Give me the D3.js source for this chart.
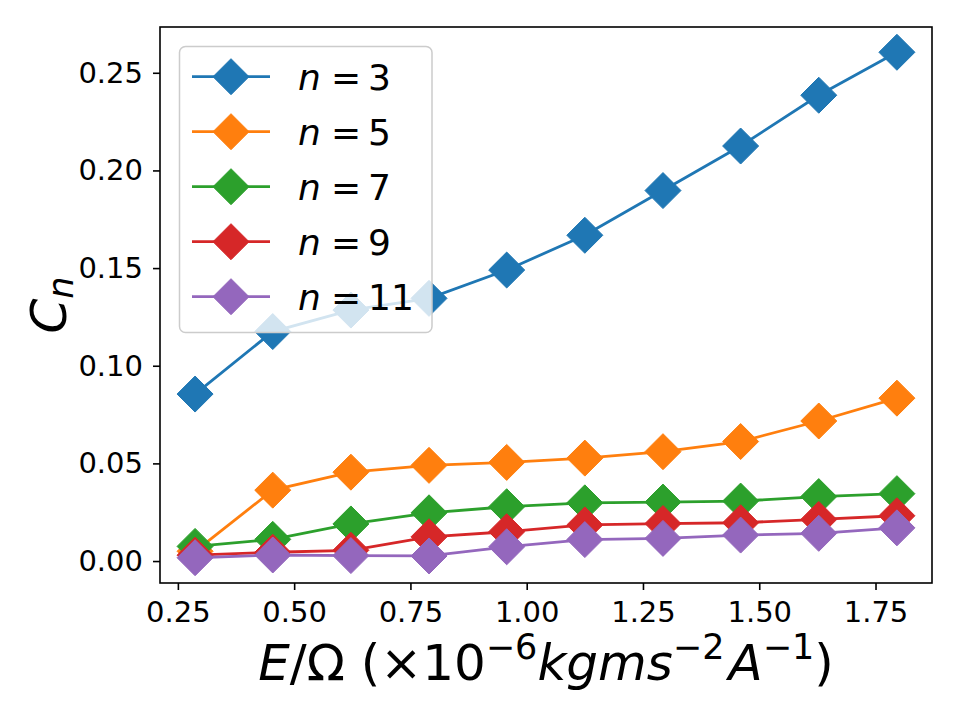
<!DOCTYPE html>
<html>
<head>
<meta charset="utf-8">
<script src="https://cdn.jsdelivr.net/npm/d3@7"></script>
<style>
  html, body { margin: 0; padding: 0; background: #fff; }
  svg { display: block; font-family: "DejaVu Sans", sans-serif; }
</style>
</head>
<body>
<div id="chart"></div>
<script>
// data
const eOmega = [0.287, 0.454, 0.622, 0.790, 0.957, 1.125, 1.293, 1.460, 1.628, 1.796];
const c3 = [0.0855, 0.1175, 0.1285, 0.1345, 0.1490, 0.1668, 0.1897, 0.2125, 0.2385, 0.2605];
const c5 = [0.0050, 0.0363, 0.0455, 0.0490, 0.0505, 0.0527, 0.0560, 0.0612, 0.0717, 0.0834];
const c7 = [0.0075, 0.0111, 0.0190, 0.0247, 0.0278, 0.0298, 0.0302, 0.0307, 0.0330, 0.0345];
const c9 = [0.0030, 0.0045, 0.0055, 0.0124, 0.0150, 0.0185, 0.0192, 0.0196, 0.0213, 0.0232];
const c11 = [0.0017, 0.0031, 0.0028, 0.0026, 0.0073, 0.0110, 0.0116, 0.0133, 0.0142, 0.0170];
const seriesNames = ['3', '5', '7', '9', '11'];
const seriesColors = ['#1f77b4', '#ff7f0e', '#2ca02c', '#d62728', '#9467bd'];
const xTicks = [0.25, 0.50, 0.75, 1.00, 1.25, 1.50, 1.75];
const yTicks = [0.00, 0.05, 0.10, 0.15, 0.20, 0.25];

const series = [c3, c5, c7, c9, c11].map((vals, i) => ({
  name: seriesNames[i],
  color: seriesColors[i],
  points: vals.map((v, j) => ({ x: eOmega[j], y: v }))
}));

const width = 960, height = 720;
const plot = { left: 160, right: 932, top: 27, bottom: 583 };

// matplotlib style 5% margins
const xExt = d3.extent(eOmega);
const xPad = (xExt[1] - xExt[0]) * 0.05;
const allY = [].concat(c3, c5, c7, c9, c11);
const yExt = d3.extent(allY);
const yPad = (yExt[1] - yExt[0]) * 0.05;

const xScale = d3.scaleLinear()
  .domain([xExt[0] - xPad, xExt[1] + xPad])
  .range([plot.left, plot.right]);
const yScale = d3.scaleLinear()
  .domain([yExt[0] - yPad, yExt[1] + yPad])
  .range([plot.bottom, plot.top]);

const svg = d3.select('#chart')
  .append('svg')
  .attr('width', width)
  .attr('height', height);

const diamond = r => `M0,${-r}L${r},0L0,${r}L${-r},0Z`;
const markerR = 18;

// lines + markers, one series at a time
const line = d3.line().x(d => xScale(d.x)).y(d => yScale(d.y));
const plotArea = svg.append('g').attr('class', 'series');
series.forEach(s => {
  const g = plotArea.append('g');
  g.append('path')
    .attr('d', line(s.points))
    .attr('fill', 'none')
    .attr('stroke', s.color)
    .attr('stroke-width', 2.8);
  g.selectAll('path.marker')
    .data(s.points)
    .enter()
      .append('path')
      .attr('class', 'marker')
      .attr('transform', d => `translate(${xScale(d.x)},${yScale(d.y)})`)
      .attr('d', diamond(markerR))
      .attr('fill', s.color)
      .attr('stroke', s.color)
      .attr('stroke-width', 1);
});

// axes
const xAxis = d3.axisBottom(xScale)
  .tickValues(xTicks)
  .tickFormat(d3.format('.2f'))
  .tickSize(7)
  .tickSizeOuter(0)
  .tickPadding(11);
const yAxis = d3.axisLeft(yScale)
  .tickValues(yTicks)
  .tickFormat(d3.format('.2f'))
  .tickSize(7)
  .tickSizeOuter(0)
  .tickPadding(10);

const gx = svg.append('g')
  .attr('transform', `translate(0,${plot.bottom})`)
  .call(xAxis);
const gy = svg.append('g')
  .attr('transform', `translate(${plot.left},0)`)
  .call(yAxis);
[gx, gy].forEach(g => {
  g.select('.domain').remove();
  g.selectAll('line').attr('stroke', '#000').attr('stroke-width', 1.6);
  g.selectAll('text')
    .attr('fill', '#000')
    .style('font-family', '"DejaVu Sans", sans-serif')
    .style('font-size', '29px');
});

// frame
svg.append('rect')
  .attr('x', plot.left)
  .attr('y', plot.top)
  .attr('width', plot.right - plot.left)
  .attr('height', plot.bottom - plot.top)
  .attr('fill', 'none')
  .attr('stroke', '#000')
  .attr('stroke-width', 1.6);

// x label
const xLabel = svg.append('text')
  .attr('x', (plot.left + plot.right) / 2)
  .attr('y', 680)
  .attr('text-anchor', 'middle')
  .style('font-size', '50px')
  .attr('fill', '#000');
xLabel.append('tspan').style('font-style', 'italic').text('E');
xLabel.append('tspan').text('/Ω (×10');
xLabel.append('tspan').attr('dy', -21).style('font-size', '35px').text('−6');
xLabel.append('tspan').attr('dy', 21).style('font-style', 'italic').text('kgms');
xLabel.append('tspan').attr('dy', -21).style('font-size', '35px').text('−2');
xLabel.append('tspan').attr('dy', 21).attr('dx', 4).style('font-style', 'italic').text('A');
xLabel.append('tspan').attr('dy', -21).style('font-size', '35px').text('−1');
xLabel.append('tspan').attr('dy', 21).text(')');

// y label
const yLabel = svg.append('text')
  .attr('transform', `translate(66,${(plot.top + plot.bottom) / 2}) rotate(-90)`)
  .attr('text-anchor', 'middle')
  .style('font-size', '50px')
  .attr('fill', '#000');
yLabel.append('tspan').style('font-style', 'italic').text('C');
yLabel.append('tspan').attr('dy', 7).style('font-style', 'italic').style('font-size', '35px').text('n');

// legend
const legend = svg.append('g').attr('class', 'legend');
legend.append('rect')
  .attr('x', 179.5)
  .attr('y', 46.5)
  .attr('width', 252.5)
  .attr('height', 286)
  .attr('rx', 6)
  .attr('fill', '#fff')
  .attr('fill-opacity', 0.8)
  .attr('stroke', '#cccccc')
  .attr('stroke-width', 1.5);

const rows = legend.selectAll('g.row')
  .data(series)
  .enter()
    .append('g')
    .attr('class', 'row')
    .attr('transform', (d, i) => `translate(0,${76.7 + i * 55})`);
rows.append('line')
  .attr('x1', 192).attr('x2', 270)
  .attr('stroke', d => d.color)
  .attr('stroke-width', 2.8);
rows.append('path')
  .attr('transform', 'translate(231,0)')
  .attr('d', diamond(markerR))
  .attr('fill', d => d.color)
  .attr('stroke', d => d.color)
  .attr('stroke-width', 1);
const lt = rows.append('text')
  .attr('y', 13)
  .style('font-size', '36px')
  .attr('fill', '#000');
lt.append('tspan').attr('x', 298).style('font-style', 'italic').text('n');
lt.append('tspan').attr('x', 331).text('=');
lt.append('tspan').attr('x', 368).text(d => d.name);
</script>
</body>
</html>
